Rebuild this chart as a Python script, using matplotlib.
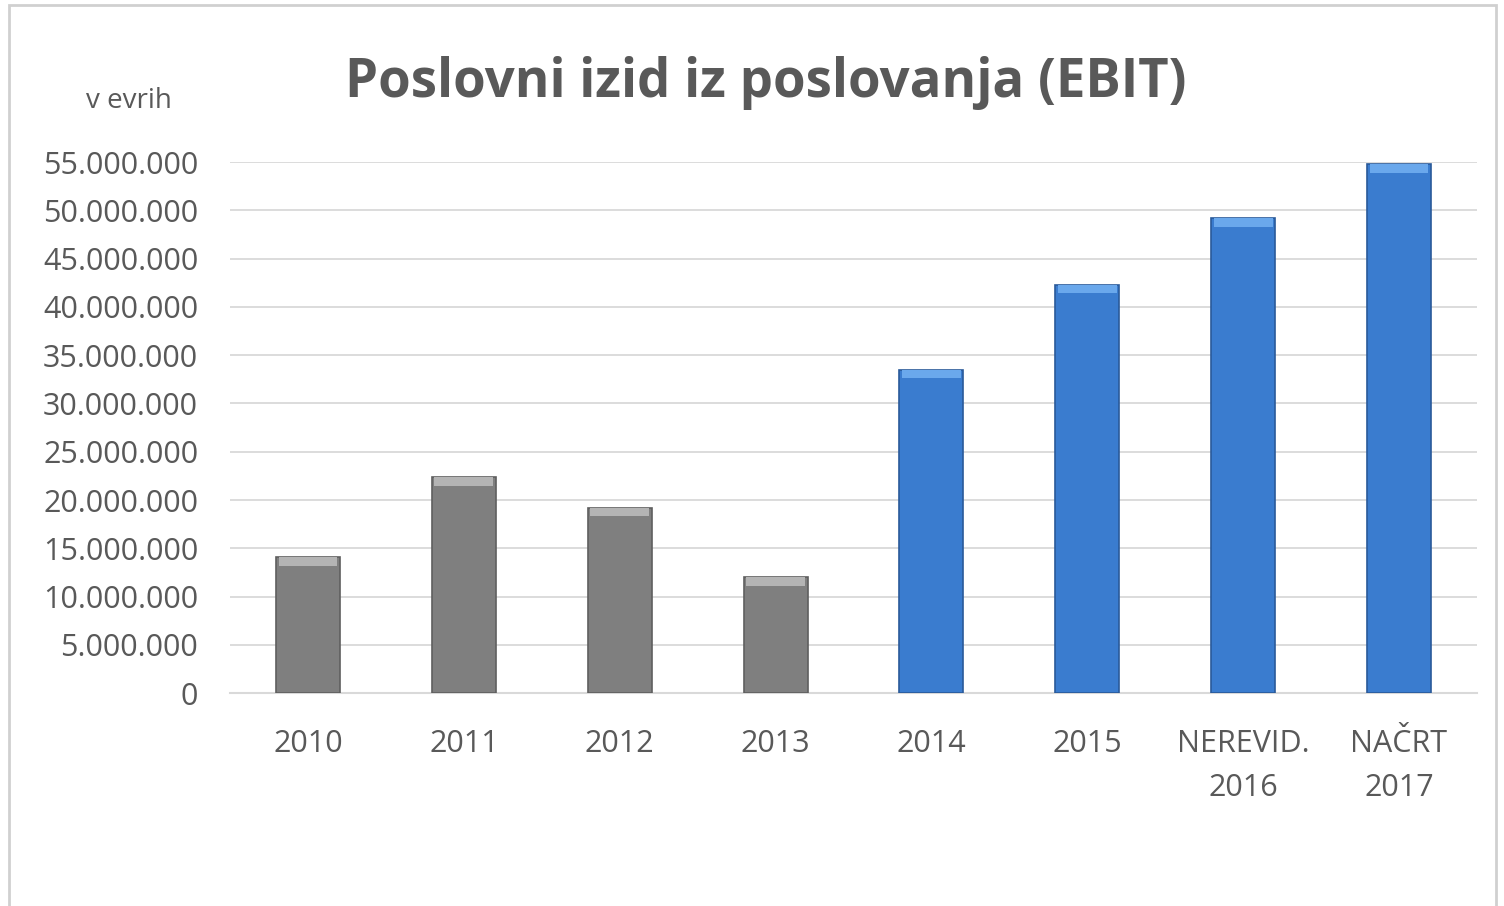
import matplotlib.pyplot as plt
import numpy as np
from matplotlib.patches import Rectangle

# Podatki
kategorije = ["2010", "2011", "2012", "2013", "2014", "2015", "NEREVID.\n2016", "NAČRT\n2017"]
ebit = [14.1e6, 22.4e6, 19.2e6, 12.0e6, 33.5e6, 42.3e6, 49.2e6, 54.8e6]
tip = ["pretekli", "pretekli", "pretekli", "pretekli", "novi", "novi", "novi", "novi"]
y_ticki = [0, 5e6, 10e6, 15e6, 20e6, 25e6, 30e6, 35e6, 40e6, 45e6, 50e6, 55e6]

plt.rcParams['font.family'] = ['Open Sans', 'DejaVu Sans']

barve = {"pretekli": "#7f7f7f", "novi": "#3a7ccf"}
robovi = {"pretekli": "#5f5f5f", "novi": "#2a5a9a"}
kapice = {"pretekli": "#b4b4b4", "novi": "#6aa8ec"}

fig = plt.figure(figsize=(15.04, 9.06), dpi=100)
ax = fig.add_axes([0.153, 0.235, 0.829, 0.586])

x = np.arange(len(kategorije))
sirina = 0.41
for i, v in enumerate(ebit):
    t = tip[i]
    ax.bar(x[i], v, width=sirina, color=barve[t], edgecolor=robovi[t], linewidth=1.2, zorder=3)
    # svetlejsi rob na vrhu stolpca
    ax.bar(x[i], 0.9e6, bottom=v - 0.9e6, width=sirina * 0.92, color=kapice[t], linewidth=0, zorder=4)

ax.set_xlim(-0.5, len(kategorije) - 0.5)
ax.set_ylim(0, 55e6)
ax.set_yticks(y_ticki)
ax.set_yticklabels([f"{int(t):,}".replace(",", ".") for t in y_ticki])
ax.set_xticks(x)
ax.set_xticklabels(kategorije)
ax.tick_params(axis='both', length=0, labelsize=22, labelcolor="#595959")
ax.tick_params(axis='x', pad=26)
ax.tick_params(axis='y', pad=23)
for lab in ax.get_xticklabels():
    lab.set_linespacing(1.6)

ax.grid(axis='y', color="#d9d9d9", linewidth=1.3, zorder=0)
for s in ["top", "right", "left"]:
    ax.spines[s].set_visible(False)
ax.spines["bottom"].set_color("#d9d9d9")
ax.spines["bottom"].set_linewidth(1.5)

fig.text(0.509, 0.908, "Poslovni izid iz poslovanja (EBIT)", ha="center", va="center",
         fontsize=38, fontweight="bold", color="#595959")
fig.text(0.086, 0.888, "v evrih", ha="center", va="center", fontsize=20, color="#595959")

# okvir grafa
fig.patches.append(Rectangle((0.006, -0.1), 0.989, 1.094, transform=fig.transFigure,
                             fill=False, edgecolor="#d0d0d0", linewidth=2))

fig.savefig("out.png", dpi=100, facecolor="white")
